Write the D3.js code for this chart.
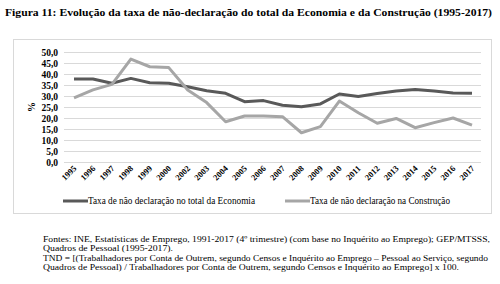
<!DOCTYPE html>
<html>
<head>
<meta charset="utf-8">
<script src="https://cdn.jsdelivr.net/npm/d3@7"></script>
<style>
  body { margin: 0; background: #fff; }
  text { font-family: "Liberation Serif", "Times New Roman", serif; fill: #000; }
</style>
</head>
<body>
<script>
// chart data
const years = ['1995','1996','1997','1998','1999','2000','2002','2003','2004','2005','2006',
               '2007','2008','2009','2010','2011','2012','2013','2014','2015','2016','2017'];
const economia = [37.7,37.7,35.8,38.0,36.0,35.8,34.2,32.4,31.2,27.4,27.9,
                  25.8,25.1,26.4,30.9,29.8,31.1,32.3,33.0,32.3,31.4,31.2];
const construcao = [29.2,32.8,35.3,46.8,43.3,42.9,32.7,27.0,18.3,20.9,20.9,
                    20.6,13.3,16.1,27.7,22.4,17.6,19.8,15.6,17.9,20.0,16.8];
const yTicks = [0,5,10,15,20,25,30,35,40,45,50];
const seriesNames = ['Taxa de não declaração no total da Economia', 'Taxa de não declaração na Construção'];
const title = 'Figura 11: Evolução da taxa de não-declaração do total da Economia e da Construção (1995-2017)';
const notes = [
  'Fontes: INE, Estatísticas de Emprego, 1991-2017 (4º trimestre) (com base no Inquérito ao Emprego); GEP/MTSSS,',
  'Quadros de Pessoal (1995-2017).',
  'TND = [(Trabalhadores por Conta de Outrem, segundo Censos e Inquérito ao Emprego – Pessoal ao Serviço, segundo',
  'Quadros de Pessoal) / Trabalhadores por Conta de Outrem, segundo Censos e Inquérito ao Emprego] x 100.'
];

const W = 500, H = 284;
const colors = ['#595959', '#a6a6a6'];

const svg = d3.select('body').append('svg')
    .attr('width', W)
    .attr('height', H);

// title
svg.append('text')
    .attr('x', 5).attr('y', 16)
    .attr('font-size', 11).attr('font-weight', 'bold')
    .attr('textLength', 487).attr('lengthAdjust', 'spacingAndGlyphs')
    .text(title);

// chart frame
svg.append('rect')
    .attr('x', 13.5).attr('y', 39.5)
    .attr('width', 478).attr('height', 174)
    .attr('fill', 'none').attr('stroke', '#d9d9d9');

const x = d3.scalePoint()
    .domain(years)
    .range([74, 472]);

const y = d3.scaleLinear()
    .domain([0, 50])
    .range([162, 52]);

// gridlines
svg.append('g')
    .selectAll('line')
    .data(yTicks)
    .join('line')
    .attr('x1', 64).attr('x2', 481)
    .attr('y1', d => Math.round(y(d)) + 0.5)
    .attr('y2', d => Math.round(y(d)) + 0.5)
    .attr('stroke', '#d9d9d9');

// y axis labels
const fmt = d => d.toFixed(1).replace('.', ',');
const yAxis = svg.append('g')
    .attr('transform', 'translate(58,0)')
    .call(d3.axisLeft(y).tickValues(yTicks).tickFormat(fmt).tickSize(0).tickPadding(0));
yAxis.select('.domain').remove();
yAxis.selectAll('text')
    .attr('font-family', '"Liberation Serif", serif')
    .attr('font-size', 9.5).attr('font-weight', 'bold');

svg.append('text')
    .attr('transform', 'translate(35,107) rotate(-90)')
    .attr('text-anchor', 'middle')
    .attr('font-size', 10).attr('font-weight', 'bold')
    .text('%');

// x axis labels
svg.append('g')
    .selectAll('text')
    .data(years)
    .join('text')
    .attr('transform', d => `translate(${x(d) + 3},169) rotate(-45)`)
    .attr('text-anchor', 'end')
    .attr('font-size', 8.5).attr('font-weight', 'bold')
    .text(d => d);

// lines
const line = d3.line()
    .x((d, i) => x(years[i]))
    .y(d => y(d));

[economia, construcao].forEach((s, i) => {
    svg.append('path')
        .datum(s)
        .attr('d', line)
        .attr('fill', 'none')
        .attr('stroke', colors[i])
        .attr('stroke-width', 3)
        .attr('stroke-linejoin', 'round');
});

// legend
const legendX = [63, 285];
const legendLen = [167, 140];
seriesNames.forEach((name, i) => {
    const g = svg.append('g').attr('transform', `translate(${legendX[i]},204)`);
    g.append('line')
        .attr('x1', 0).attr('x2', 25)
        .attr('y1', -3).attr('y2', -3)
        .attr('stroke', colors[i]).attr('stroke-width', 3);
    g.append('text')
        .attr('x', 25).attr('y', 0)
        .attr('font-size', 9.5)
        .attr('textLength', legendLen[i]).attr('lengthAdjust', 'spacingAndGlyphs')
        .text(name);
});

// footnotes
const noteLen = [447, 130, 445, 416];
svg.append('g')
    .selectAll('text')
    .data(notes)
    .join('text')
    .attr('x', 43)
    .attr('y', (d, i) => 242 + i * 9.4)
    .attr('font-size', 8.6)
    .attr('textLength', (d, i) => noteLen[i])
    .attr('lengthAdjust', 'spacingAndGlyphs')
    .text(d => d);
</script>
</body>
</html>
